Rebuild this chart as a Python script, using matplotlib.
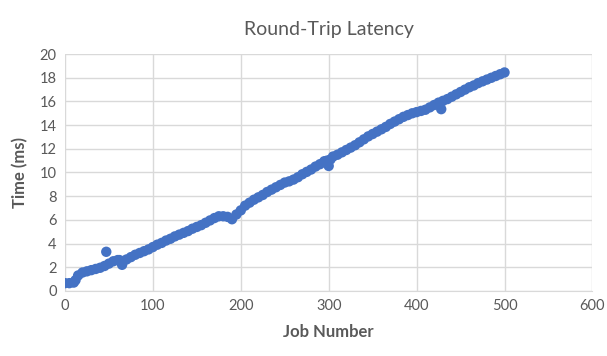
import matplotlib.pyplot as plt

# job number -> round-trip time in ms
jobs = [0, 5, 10, 15, 20, 25, 30, 35, 40, 45, 50, 55, 60, 65, 70, 75, 80, 85, 90, 95,
        100, 105, 110, 115, 120, 125, 130, 135, 140, 145, 150, 155, 160, 165, 170, 175,
        180, 185, 190, 195, 200, 205, 210, 215, 220, 225, 230, 235, 240, 245, 250, 255,
        260, 265, 270, 275, 280, 285, 290, 295, 300, 305, 310, 315, 320, 325, 330, 335,
        340, 345, 350, 355, 360, 365, 370, 375, 380, 385, 390, 395, 400, 405, 410, 415,
        420, 425, 430, 435, 440, 445, 450, 455, 460, 465, 470, 475, 480, 485, 490, 495,
        500, 47, 302, 298, 428, 62, 12]
times = [0.65, 0.65, 0.7, 1.3, 1.55, 1.65, 1.75, 1.85, 1.95, 2.1, 2.3, 2.5, 2.6, 2.2, 2.65,
         2.85, 3.05, 3.2, 3.35, 3.5, 3.7, 3.9, 4.05, 4.25, 4.4, 4.6, 4.75, 4.9, 5.05, 5.25,
         5.4, 5.55, 5.75, 5.95, 6.15, 6.3, 6.3, 6.25, 6.05, 6.45, 6.8, 7.2, 7.45, 7.7, 7.9,
         8.1, 8.35, 8.55, 8.75, 8.95, 9.15, 9.25, 9.4, 9.6, 9.85, 10.05, 10.25, 10.5, 10.7,
         10.95, 10.55, 11.35, 11.5, 11.7, 11.9, 12.1, 12.3, 12.55, 12.8, 13.05, 13.25, 13.45,
         13.65, 13.85, 14.1, 14.3, 14.5, 14.7, 14.85, 15.0, 15.1, 15.2, 15.3, 15.5, 15.7,
         15.9, 16.05, 16.2, 16.4, 16.6, 16.8, 17.0, 17.2, 17.35, 17.55, 17.7, 17.85, 18.0,
         18.15, 18.3, 18.45, 3.3, 11.1, 11.0, 15.35, 2.6, 0.9]

plt.rcParams['font.family'] = ['Lato', 'DejaVu Sans']
grey = '#595959'

fig = plt.figure(figsize=(6.07, 3.56), dpi=100)
ax = fig.add_axes([0.107, 0.183, 0.869, 0.665])

ax.scatter(jobs, times, s=56, color='#4472C4', edgecolors='none', zorder=3)

ax.set_xlim(0, 600)
ax.set_ylim(0, 20)
ax.set_xticks(range(0, 601, 100))
ax.set_yticks(range(0, 21, 2))
ax.grid(True, color='#d9d9d9', linewidth=1)
ax.set_axisbelow(True)
for s in ['top', 'right', 'left']:
    ax.spines[s].set_visible(False)
ax.spines['bottom'].set_color('#d9d9d9')
ax.tick_params(length=0, colors=grey, labelsize=10.5, pad=6)

ax.set_title('Round-Trip Latency', color=grey, fontsize=14, pad=14)
ax.set_xlabel('Job Number', color=grey, fontsize=12, fontweight='bold', labelpad=8)
ax.set_ylabel('Time (ms)', color=grey, fontsize=12, fontweight='bold', labelpad=8)

fig.savefig('out.png', dpi=100)
